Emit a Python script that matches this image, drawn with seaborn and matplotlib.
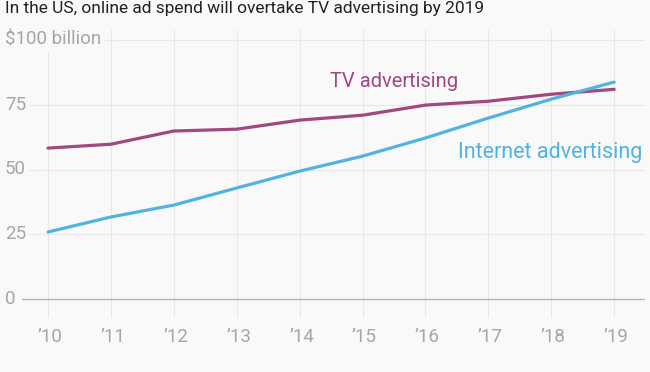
"""
US ad spend: TV vs internet advertising, 2010-2019
"""
import pandas as pd
import matplotlib.pyplot as plt
import seaborn as sns

sns.set_style("white")
plt.rcParams["font.family"] = ["Roboto", "DejaVu Sans"]

BG = "#f9f9f9"
TV_COLOR = "#a0487f"
WEB_COLOR = "#52b3e2"
GREY = "#a6a6a6"

years = [2010, 2011, 2012, 2013, 2014, 2015, 2016, 2017, 2018, 2019]
tv_spend = [58.3, 59.8, 64.9, 65.6, 69.1, 71.0, 74.9, 76.4, 79.1, 81.0]
internet_spend = [25.9, 31.7, 36.3, 42.9, 49.4, 55.2, 62.2, 69.9, 77.2, 83.8]
year_labels = ["\u201910", "\u201911", "\u201912", "\u201913", "\u201914",
               "\u201915", "\u201916", "\u201917", "\u201918", "\u201919"]
y_ticks = [0, 25, 50, 75, 100]
y_labels = ["0", "25", "50", "75", "$100 billion"]

df = pd.DataFrame({"year": years, "TV advertising": tv_spend,
                   "Internet advertising": internet_spend})
long_df = df.melt(id_vars="year", var_name="medium", value_name="spend")

fig = plt.figure(figsize=(6.5, 3.72), dpi=100, facecolor=BG)
ax = fig.add_axes([22 / 650, 54 / 372, 623 / 650, 288 / 372])
ax.set_facecolor(BG)

sns.lineplot(data=long_df, x="year", y="spend", hue="medium",
             palette={"TV advertising": TV_COLOR, "Internet advertising": WEB_COLOR},
             linewidth=2.3, legend=False, ax=ax, zorder=3)

ax.set_xlim(2009.587, 2019.49)
ax.set_ylim(-7.3, 103.9)

# grid
for yr in years:
    ax.axvline(yr, color="#e8e8e8", lw=0.8, zorder=0)
for t in y_ticks[1:]:
    ax.axhline(t, color="#e8e8e8", lw=0.8, zorder=0)
ax.axhline(0, color="#b5b5b5", lw=1.0, zorder=1)

for s in ax.spines.values():
    s.set_visible(False)
ax.set_xticks([])
ax.set_yticks([])
ax.set_xlabel("")
ax.set_ylabel("")

# y tick labels sitting on top of the gridlines
for t, lab in zip(y_ticks, y_labels):
    fig.text(5 / 650, 1 - (299 - t * 2.59) / 372, lab, fontsize=13.5, color=GREY,
             ha="left", va="center",
             bbox=dict(facecolor=BG, edgecolor="none", pad=2))

# x tick labels
for yr, lab in zip(years, year_labels):
    ax.text(yr + 0.03, -14.7, lab, fontsize=13.5, color=GREY, ha="center", va="center",
            clip_on=False)

# series labels
ax.text(2014.48, 81.8, "TV advertising", color=TV_COLOR, fontsize=14.5, ha="left",
        va="baseline")
ax.text(2016.52, 54.6, "Internet advertising", color=WEB_COLOR, fontsize=15.5,
        ha="left", va="baseline")

fig.text(5 / 650, 1 - 13 / 372, "In the US, online ad spend will overtake TV advertising by 2019",
         fontsize=12.5, color="#222222", ha="left", va="baseline")

fig.savefig("out.png", dpi=100, facecolor=BG)
